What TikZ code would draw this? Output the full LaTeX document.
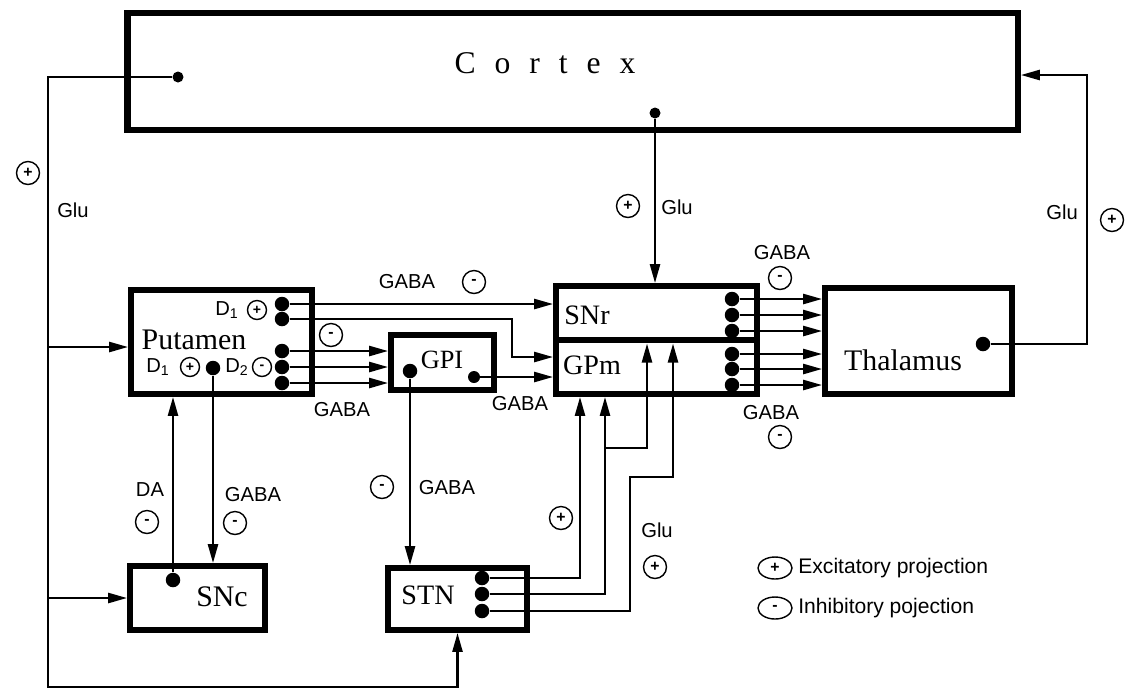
\documentclass[tikz,border=0pt]{standalone}
\usepackage{fontspec}
\setmainfont{Liberation Serif}
\setsansfont{Liberation Sans}
\newfontfamily\cortexfont[LetterSpace=60]{Liberation Serif}
\usepackage{tikz}
\usetikzlibrary{arrows.meta, shapes.geometric, calc}

\begin{document}
\begin{tikzpicture}[
    x=0.02cm, y=-0.02cm,
    box/.style={rectangle, draw, line width=3.6pt, inner sep=0pt},
    dot/.style={circle, fill, inner sep=0pt, minimum size=0.29cm},
    wire/.style={line width=1.4pt},
    arr/.style={wire, -{Triangle[length=0.38cm, width=0.2cm]}},
    sign/.style={circle, draw, line width=0.8pt, minimum size=0.46cm, inner sep=0pt, font=\sffamily\bfseries\small},
    smallsign/.style={sign, minimum size=0.38cm, font=\sffamily\bfseries\footnotesize},
    legsign/.style={sign, ellipse, minimum width=0.68cm, minimum height=0.44cm},
    lbl/.style={font=\sffamily\fontsize{11.5}{13}\selectfont, inner sep=0pt},
    boxtext/.style={font=\fontsize{17}{20}\selectfont, inner sep=0pt}
]
    \useasboundingbox (0,0) rectangle (1128,691);

    % boxes
    \node[box, minimum width=17.81cm, minimum height=2.33cm] (cortex) at (572.5,71.5) {};
    \node[box, minimum width=3.61cm, minimum height=2.07cm] (putamen) at (221.5,342) {};
    \node[box, minimum width=2.05cm, minimum height=1.09cm] (gpi) at (442.5,362.5) {};
    \node[box, minimum width=4.01cm, minimum height=2.15cm] (sngp) at (656.5,340) {};
    \node[box, minimum width=3.73cm, minimum height=2.11cm] (thal) at (918.5,341) {};
    \node[box, minimum width=2.77cm, minimum height=1.23cm] (stn) at (457.5,599) {};
    \node[box, minimum width=2.69cm, minimum height=1.27cm] (snc) at (197.5,598) {};
    \draw[line width=3.6pt] (sngp.west) -- (sngp.east);
    \coordinate (div) at (656.5,343.5);

    \node[boxtext, font=\fontsize{18}{20}\selectfont] (cortextext) at (545,63) {\cortexfont Cortex};
    \node[boxtext] (putamentext) at (194,340) {Putamen};
    \node[boxtext, font=\fontsize{15}{18}\selectfont] (gpitext) at (442,360) {GPI};
    \node[boxtext, font=\fontsize{16}{18}\selectfont] (snrtext) at (587,315) {SNr};
    \node[boxtext, font=\fontsize{16}{18}\selectfont] (gpmtext) at (592,365) {GPm};
    \node[boxtext] (thaltext) at (903,360) {Thalamus};
    \node[boxtext, font=\fontsize{16}{18}\selectfont] (stntext) at (428,595) {STN};
    \node[boxtext] (snctext) at (222,597) {SNc};

    % cortex outputs
    \node[dot, minimum size=0.22cm] (cx1) at (178,77) {};
    \node[dot, minimum size=0.22cm] (cx2) at (655,113) {};
    \coordinate (ctl) at (48,77);
    \coordinate (cbl) at (48,687);
    \coordinate (gluput) at (48,347);
    \draw[arr] (cx1) -- (ctl) -- (cbl) -| (stn.south);
    \draw[arr] (gluput) -- (gluput -| putamen.west);
    \draw[arr] (ctl |- snc.west) -- (snc.west);
    \draw[arr] (cx2) -- (cx2 |- sngp.north);

    % thalamus back to cortex
    \node[dot] (th) at (983,344) {};
    \coordinate (thr) at (1087,344);
    \coordinate (thtop) at (1087,75);
    \draw[arr] (th) -- (thr) -- (thtop) -- (thtop -| cortex.east);

    % putamen outputs
    \node[dot] (p1) at (282,304) {};
    \node[dot] (p2) at (282,319) {};
    \node[dot] (p3) at (282,351) {};
    \node[dot] (p4) at (282,367) {};
    \node[dot] (p5) at (282,383) {};
    \node[dot] (pd) at (213,368) {};
    \coordinate (k2) at (512,357);
    \draw[arr] (p1) -- (p1 -| sngp.west);
    \draw[arr] (p2) -| (k2) -- (k2 -| sngp.west);
    \draw[arr] (p3) -- (p3 -| gpi.west);
    \draw[arr] (p4) -- (p4 -| gpi.west);
    \draw[arr] (p5) -- (p5 -| gpi.west);
    \draw[arr] (pd) -- (pd |- snc.north);

    % SNc to putamen
    \node[dot] (sd) at (173,580) {};
    \draw[arr] (sd) -- (sd |- putamen.south);

    % GPi outputs
    \node[dot] (g1) at (410,371) {};
    \node[dot, minimum size=0.24cm] (g2) at (474,377) {};
    \draw[arr] (g1) -- (g1 |- stn.north);
    \draw[arr] (g2) -- (g2 -| sngp.west);

    % SNr / GPm to thalamus
    \node[dot] (n1) at (732,299) {};
    \node[dot] (n2) at (732,315) {};
    \node[dot] (n3) at (732,331) {};
    \node[dot] (n4) at (732,354) {};
    \node[dot] (n5) at (732,369) {};
    \node[dot] (n6) at (732,385) {};
    \draw[arr] (n1) -- (n1 -| thal.west);
    \draw[arr] (n2) -- (n2 -| thal.west);
    \draw[arr] (n3) -- (n3 -| thal.west);
    \draw[arr] (n4) -- (n4 -| thal.west);
    \draw[arr] (n5) -- (n5 -| thal.west);
    \draw[arr] (n6) -- (n6 -| thal.west);

    % STN outputs
    \node[dot] (s1) at (482,578) {};
    \node[dot] (s2) at (482,594) {};
    \node[dot] (s3) at (482,611) {};
    \coordinate (k3) at (580,578);
    \coordinate (k4) at (605,594);
    \coordinate (k5) at (605,448);
    \coordinate (k6) at (647,448);
    \coordinate (k7) at (630,611);
    \coordinate (k8) at (630,477);
    \coordinate (k9) at (673,477);
    \draw[arr] (s1) -- (k3) -- (k3 |- sngp.south);
    \draw[arr] (s2) -- (k4) -- (k4 |- sngp.south);
    \draw[arr] (k5) -- (k6) -- (k6 |- div);
    \draw[arr] (s3) -- (k7) -- (k8) -- (k9) -- (k9 |- div);

    % transmitter labels
    \node[sign] (e1) at (28,173) {+};
    \node[lbl] (glu1) at (73,210) {Glu};
    \node[sign] (e2) at (628,206) {+};
    \node[lbl] (glu2) at (677,207) {Glu};
    \node[lbl] (glu3) at (1062,212) {Glu};
    \node[sign] (e3) at (1112,220) {+};
    \node[lbl] (gaba1) at (407,282) {GABA};
    \node[sign] (i1) at (474,282) {-};
    \node[sign] (i2) at (331,335) {-};
    \node[lbl] (gaba2) at (342,410) {GABA};
    \node[lbl] (gaba3) at (520,404) {GABA};
    \node[lbl] (gaba4) at (782,253) {GABA};
    \node[sign] (i3) at (780,278) {-};
    \node[lbl] (gaba5) at (771,413) {GABA};
    \node[sign] (i4) at (780,437) {-};
    \node[lbl] (da) at (150,490) {DA};
    \node[sign] (i5) at (147,522) {-};
    \node[lbl] (gaba6) at (253,495) {GABA};
    \node[sign] (i6) at (235,523) {-};
    \node[sign] (i7) at (382,487) {-};
    \node[lbl] (gaba7) at (447,488) {GABA};
    \node[sign] (e4) at (561,518) {+};
    \node[lbl] (glu4) at (657,530) {Glu};
    \node[sign] (e5) at (655,567) {+};

    % receptors in putamen
    \node[lbl] (d1a) at (227,310) {D\textsubscript{1}};
    \node[smallsign] (e6) at (257,310) {+};
    \node[lbl] (d1b) at (158,367) {D\textsubscript{1}};
    \node[smallsign] (e7) at (190,367) {+};
    \node[lbl] (d2) at (237,367) {D\textsubscript{2}};
    \node[smallsign] (i8) at (262,367) {-};

    % legend
    \node[legsign] (le) at (775,568) {+};
    \node[lbl, anchor=west, font=\sffamily\fontsize{12}{14}\selectfont] (letext) at (798,568) {Excitatory projection};
    \node[legsign] (li) at (775,608) {-};
    \node[lbl, anchor=west, font=\sffamily\fontsize{12}{14}\selectfont] (litext) at (798,608) {Inhibitory pojection};
\end{tikzpicture}
\end{document}
